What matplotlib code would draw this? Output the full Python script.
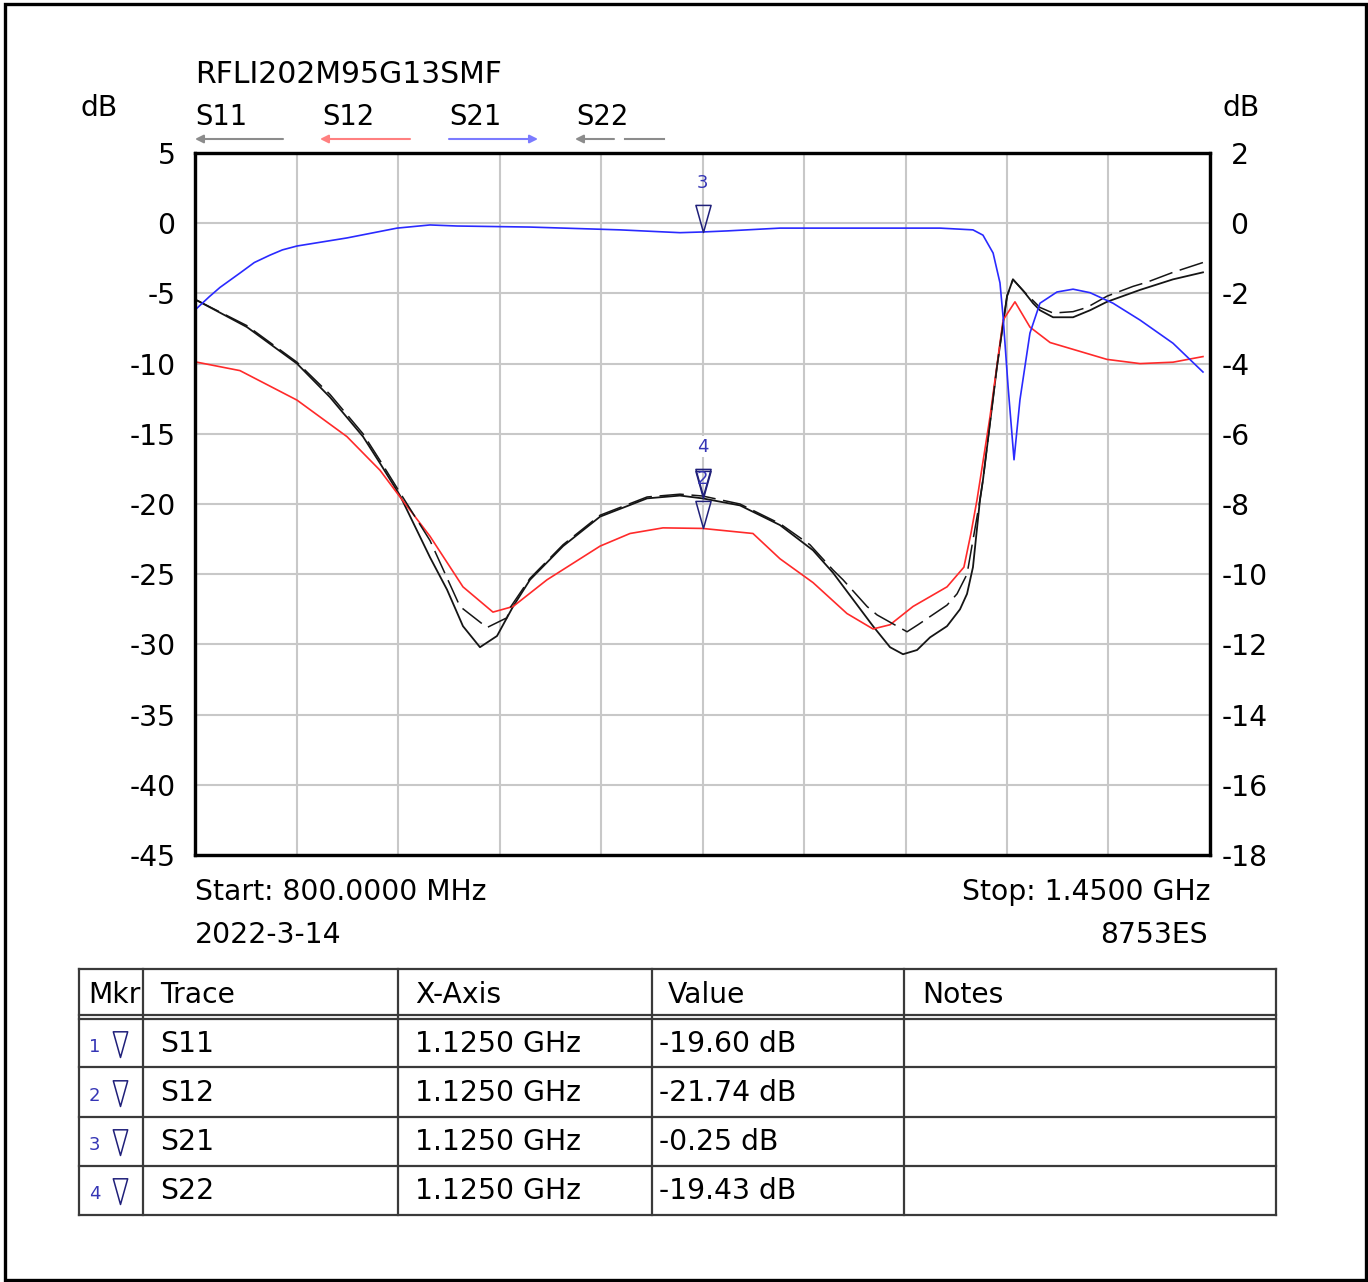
import numpy as np
import matplotlib.pyplot as plt
from matplotlib.path import Path
from matplotlib.patches import Rectangle

plt.rcParams['font.family'] = ['DejaVu Sans']

# ---- data (frequency in MHz, level in dB) ----
s11_f = [801.3, 833.3, 865.3, 886.5, 907.6, 918.5, 931.3, 950.5, 961.4, 971.6,
         982.5, 993.4, 1003.7, 1014.5, 1035.7, 1059.4, 1089.5, 1110.6, 1125.0, 1149.0,
         1174.6, 1195.8, 1208.6, 1221.4, 1234.2, 1245.1, 1253.4, 1262.4, 1270.7, 1281.6,
         1289.9, 1294.4, 1298.2, 1302.7, 1304.6, 1313.6, 1320.0, 1323.8, 1330.3, 1336.7,
         1341.1, 1349.5, 1362.3, 1373.2, 1384.0, 1405.2, 1426.3, 1445.5]
s11_db = [-5.5, -7.4, -10.0, -12.4, -15.2, -17.1, -19.4, -23.8, -26.1, -28.7,
          -30.2, -29.4, -27.3, -25.4, -23.0, -20.9, -19.6, -19.4, -19.6, -20.1,
          -21.5, -23.3, -24.9, -26.8, -28.7, -30.2, -30.7, -30.4, -29.5, -28.7,
          -27.5, -26.4, -24.5, -19.7, -18.3, -10.2, -5.2, -4.0, -4.8, -5.7,
          -6.2, -6.7, -6.7, -6.2, -5.6, -4.75, -4.0, -3.5]

s22_f = [801.3, 833.3, 865.3, 886.5, 907.6, 918.5, 931.3, 950.5, 969.7, 987.0,
         999.8, 1001.7, 1014.5, 1035.7, 1059.4, 1089.5, 1110.6, 1125.0, 1149.0, 1174.6,
         1193.8, 1208.6, 1215.0, 1230.4, 1236.8, 1256.0, 1263.0, 1281.6, 1288.0, 1294.4,
         1302.7, 1304.6, 1313.6, 1320.0, 1323.8, 1330.3, 1341.1, 1349.5, 1362.3, 1371.2,
         1384.0, 1400.7, 1409.7, 1426.3, 1445.5]
s22_db = [-5.5, -7.3, -9.9, -12.2, -15.0, -16.9, -19.2, -22.6, -27.3, -28.8,
          -28.1, -27.4, -25.3, -22.9, -20.8, -19.5, -19.3, -19.43, -20.0, -21.4,
          -22.9, -24.7, -25.4, -27.3, -27.9, -29.1, -28.6, -27.2, -26.4, -25.0,
          -19.7, -18.3, -10.2, -5.2, -4.0, -4.8, -6.0, -6.4, -6.3, -6.0,
          -5.2, -4.5, -4.2, -3.5, -2.8]

s12_f = [801.3, 828.8, 865.3, 897.3, 918.5, 931.3, 950.5, 971.6, 990.8, 1003.7,
         1025.4, 1059.4, 1078.6, 1099.7, 1125.0, 1157.3, 1174.6, 1195.8, 1217.5, 1234.2,
         1245.1, 1259.8, 1281.6, 1292.4, 1296.9, 1300.8, 1304.6, 1309.1, 1317.5, 1325.1,
         1334.7, 1347.6, 1384.0, 1405.2, 1426.3, 1445.5]
s12_db = [-9.9, -10.5, -12.6, -15.2, -17.6, -19.5, -22.3, -25.9, -27.7, -27.3,
          -25.4, -23.0, -22.1, -21.7, -21.74, -22.1, -23.9, -25.6, -27.8, -28.9,
          -28.6, -27.3, -25.9, -24.5, -22.1, -19.7, -17.0, -13.8, -6.9, -5.6,
          -7.4, -8.5, -9.7, -10.0, -9.9, -9.5]

# S21 is read on the right hand scale
s21_f = [801.3, 809.0, 816.0, 828.8, 838.0, 848.0, 856.0, 865.3, 897.3, 929.4,
         950.5, 967.8, 1014.5, 1072.2, 1110.6, 1125.0, 1140.7, 1161.8, 1174.6, 1277.1,
         1298.2, 1304.6, 1311.1, 1315.5, 1317.5, 1320.7, 1324.5, 1328.3, 1334.7, 1341.1,
         1352.0, 1362.3, 1373.2, 1387.9, 1405.2, 1426.3, 1445.5]
s21_db = [-2.42, -2.1, -1.83, -1.42, -1.12, -0.91, -0.76, -0.65, -0.42, -0.14,
          -0.05, -0.08, -0.11, -0.19, -0.27, -0.25, -0.22, -0.17, -0.14, -0.14,
          -0.19, -0.34, -0.85, -1.7, -2.67, -4.66, -6.74, -5.03, -3.13, -2.28,
          -1.96, -1.88, -1.98, -2.28, -2.76, -3.42, -4.24]

left_ticks = [5, 0, -5, -10, -15, -20, -25, -30, -35, -40, -45]
right_ticks = [2, 0, -2, -4, -6, -8, -10, -12, -14, -16, -18]
freq_grid = np.arange(800, 1451, 65)

trace_names = ['S11', 'S12', 'S21', 'S22']
mk_freq = 1125.0
mk_db = [-19.60, -21.74, -0.25, -19.43]
mk_xtext = ['1.1250 GHz'] * 4
mk_value = ['-19.60 dB', '-21.74 dB', '-0.25 dB', '-19.43 dB']
table_head = ['Mkr', 'Trace', 'X-Axis', 'Value', 'Notes']

title = 'RFLI202M95G13SMF'
start_txt = 'Start: 800.0000 MHz'
stop_txt = 'Stop: 1.4500 GHz'
date_txt = '2022-3-14'
inst_txt = '8753ES'

W, H = 1368, 1282
fig = plt.figure(figsize=(W / 100, H / 100), dpi=100)

# overlay in pixel coordinates for the page furniture
ov = fig.add_axes([0, 0, 1, 1])
ov.set_xlim(0, W)
ov.set_ylim(H, 0)
ov.axis('off')

FS = 20.3
NAVY = '#20207a'
MKBLUE = '#3535b5'
tri = Path([(-0.28, 1), (0.28, 1), (0, 0), (-0.28, 1)],
           [Path.MOVETO, Path.LINETO, Path.LINETO, Path.CLOSEPOLY])

ov.add_patch(Rectangle((5, 4), 1361, 1276, fill=False, lw=2.4, ec='black'))

ov.text(195, 83, title, fontsize=21.5, va='baseline')
ov.text(80, 116, 'dB', fontsize=FS, va='baseline')
ov.text(1222, 116, 'dB', fontsize=FS, va='baseline')

leg_x = [195, 322, 449, 576]
for name, x in zip(trace_names, leg_x):
    ov.text(x, 125, name, fontsize=19.8, va='baseline')
arr = dict(arrowstyle='-|>', lw=1.5, mutation_scale=12, shrinkA=0, shrinkB=0)
ov.annotate('', xy=(195, 139), xytext=(283, 139), arrowprops=dict(arr, color='#8c8c8c'))
ov.annotate('', xy=(320, 139), xytext=(410, 139), arrowprops=dict(arr, color='#ff8080'))
ov.annotate('', xy=(538, 139), xytext=(449, 139), arrowprops=dict(arr, color='#7b7bff'))
ov.annotate('', xy=(575, 139), xytext=(614, 139), arrowprops=dict(arr, color='#8c8c8c'))
ov.plot([625, 664], [139, 139], color='#8c8c8c', lw=1.5)

ov.text(195, 900, start_txt, fontsize=FS, va='baseline')
ov.text(195, 943, date_txt, fontsize=FS, va='baseline')
ov.text(1210, 900, stop_txt, fontsize=FS, va='baseline', ha='right')
ov.text(1208, 943, inst_txt, fontsize=FS, va='baseline', ha='right')

# marker table
tcol = '#3a3a3a'
col_x = [79, 143, 398, 652, 904, 1276]
row_y = [969, 1015, 1019, 1067, 1117, 1166, 1215]
for y in row_y:
    ov.plot([79, 1276], [y, y], color=tcol, lw=1.6)
for x in col_x:
    ov.plot([x, x], [969, 1215], color=tcol, lw=1.6)
head_x = [88, 160, 415, 668, 922]
for txt, x in zip(table_head, head_x):
    ov.text(x, 1003, txt, fontsize=FS, va='baseline')
row_c = [1042, 1091, 1140, 1189]
for i, yc in enumerate(row_c):
    ov.text(89, yc + 10, str(i + 1), fontsize=13, color=MKBLUE, va='baseline')
    ov.plot([120], [yc + 15], marker=tri, ms=37, mfc='none', mec=NAVY, mew=1.1)
    ov.text(160, yc + 10, trace_names[i], fontsize=FS, va='baseline')
    ov.text(415, yc + 10, mk_xtext[i], fontsize=FS, va='baseline')
    ov.text(659, yc + 10, mk_value[i], fontsize=FS, va='baseline')

# chart
ax = fig.add_axes([195 / W, 1 - 855 / H, 1015 / W, 702 / H])
ax2 = ax.twinx()
ax.set_xlim(800, 1450)
ax.set_ylim(-45, 5)
ax2.set_ylim(-18, 2)

ax.set_xticks(freq_grid)
ax.set_xticklabels([])
ax.set_yticks(left_ticks)
ax.set_yticklabels([str(v) for v in left_ticks], fontsize=FS)
ax2.set_yticks(right_ticks)
ax2.set_yticklabels([str(v) if v < 0 else ' ' + str(v) for v in right_ticks], fontsize=FS)
ax.tick_params(length=0, pad=14)
ax2.tick_params(length=0, pad=8.5)
ax.grid(True, color='#c8c8c8', lw=1.5)
ax.set_axisbelow(True)
for a in (ax, ax2):
    for s in a.spines.values():
        s.set_linewidth(2.3)
        s.set_color('black')

ax.plot(s11_f, s11_db, color='#151515', lw=1.3)
ax.plot(s12_f, s12_db, color='#ff2a2a', lw=1.2)
ax.plot(s22_f, s22_db, color='#151515', lw=1.1, dashes=(16, 5))
ax2.plot(s21_f, s21_db, color='#2a2aff', lw=1.2)

# marker triangles; label 4 is drawn last and covers label 1 as on the analyser
for i in range(4):
    a = ax2 if trace_names[i] == 'S21' else ax
    a.plot([mk_freq], [mk_db[i]], marker=tri, ms=39, mfc='none', mec=NAVY, mew=1.1, zorder=5)
    box = dict(boxstyle='square,pad=0.1', fc='white', ec='none') if i == 3 else None
    a.annotate(str(i + 1), (mk_freq, mk_db[i]), xytext=(0, 32), textcoords='offset points',
               ha='center', va='baseline', fontsize=13, color=MKBLUE, zorder=6, bbox=box)

fig.savefig('out.png', dpi=100)
